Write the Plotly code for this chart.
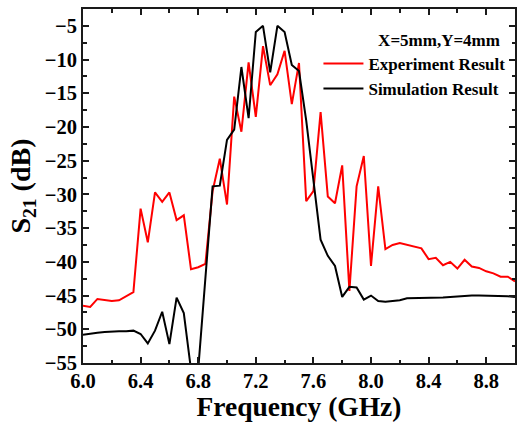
import plotly.graph_objects as go

freq = [round(6.0 + 0.05 * i, 2) for i in range(61)]

experiment = [
    -46.5, -46.7, -45.5, -45.7, -45.8, -45.7, -45.1, -44.5, -32.1, -37.1,
    -29.7, -31.1, -29.7, -33.8, -33.1, -41.1, -40.8, -40.3, -29.5, -24.7,
    -31.5, -15.5, -20.7, -10.4, -18.5, -8.0, -13.8, -12.2, -8.7, -16.6,
    -10.5, -31.0, -29.5, -17.8, -30.3, -31.3, -25.7, -44.3, -28.8, -24.3,
    -40.6, -28.8, -38.1, -37.5, -37.2, -37.5, -37.8, -38.0, -39.6, -39.4,
    -40.5, -40.0, -41.0, -39.7, -40.7, -40.9, -41.4, -41.7, -42.2, -42.2,
    -42.9,
]

simulation = [
    -50.8, -50.6, -50.5, -50.4, -50.3, -50.3, -50.3, -50.2, -50.7, -52.1,
    -50.2, -47.4, -52.2, -45.3, -47.6, -56.0, -56.0, -42.0, -28.8, -28.7,
    -21.9, -20.4, -11.1, -18.7, -5.9, -5.0, -11.9, -5.0, -5.9, -10.8,
    -11.7, -19.0, -27.5, -36.7, -39.1, -40.6, -45.2, -43.7, -43.8, -45.6,
    -45.0, -45.8, -45.9, -45.8, -45.7, -45.4, -45.4, -45.4, -45.4, -45.3,
    -45.3, -45.2, -45.1, -45.0, -45.0, -45.0, -45.0, -45.0, -45.1, -45.1,
    -45.2,
]

legend_title = "X=5mm,Y=4mm"
names = ["Experiment Result", "Simulation Result"]

FONT = "Liberation Serif, Times New Roman, serif"

fig = go.Figure()
fig.add_trace(go.Scatter(x=freq, y=experiment, mode="lines", name="<b>" + names[0] + "</b>",
                         line=dict(color="#ff0000", width=2)))
fig.add_trace(go.Scatter(x=freq, y=simulation, mode="lines", name="<b>" + names[1] + "</b>",
                         line=dict(color="#000000", width=2)))

axis_common = dict(
    showline=True, linecolor="#1a1a1a", linewidth=2, mirror="ticks",
    ticks="inside", ticklen=6, tickwidth=2, tickcolor="#1a1a1a",
    showgrid=False, zeroline=False,
    tickfont=dict(family=FONT, size=20.5, color="#000000"),
    tickprefix="<b>", ticksuffix="</b>",
)

fig.update_layout(
    width=518, height=422,
    margin=dict(l=83, r=1, t=9, b=59),
    paper_bgcolor="white", plot_bgcolor="white",
    font=dict(family=FONT, color="#000000"),
    xaxis=dict(
        range=[6.0, 9.0], tick0=6.0, dtick=0.4, tickformat=".1f",
        ticklabelstandoff=-2,
        minor=dict(dtick=0.2, ticks="inside", ticklen=3.5, tickwidth=2, tickcolor="#1a1a1a"),
        title=dict(text="<b>Frequency (GHz)</b>", font=dict(family=FONT, size=27.5), standoff=4),
        **axis_common,
    ),
    yaxis=dict(
        range=[-55, -2.5], tick0=-55, dtick=5, tickformat="d",
        minor=dict(dtick=2.5, ticks="inside", ticklen=3.5, tickwidth=2, tickcolor="#1a1a1a"),
        title=dict(text="<b>S<sub>21</sub> (dB)</b>", font=dict(family=FONT, size=28), standoff=6),
        **axis_common,
    ),
    legend=dict(
        x=0.545, y=0.958, xanchor="left", yanchor="top",
        bgcolor="rgba(0,0,0,0)", borderwidth=0,
        font=dict(family=FONT, size=17, color="#000000"),
        title=dict(text="<b>" + legend_title + "</b>&nbsp;&nbsp;", side="top right",
                   font=dict(family=FONT, size=17)),
        tracegroupgap=0, itemwidth=40,
    ),
)

fig.write_html("out.html")
